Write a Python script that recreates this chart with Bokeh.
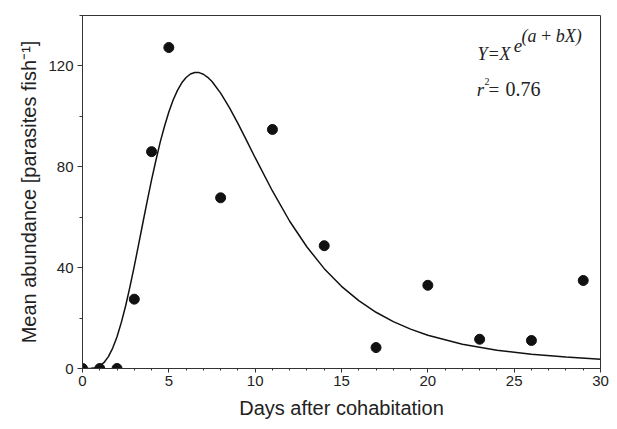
from bokeh.plotting import figure
from bokeh.models import FixedTicker, Label, Range1d
from bokeh.embed import file_html
from bokeh.resources import INLINE

days = [0, 1, 2, 3, 4, 5, 8, 11, 14, 17, 20, 23, 26, 29]
abundance = [0, 0, 0, 27.5, 86, 127.3, 67.7, 94.8, 48.7, 8.3, 33, 11.6, 11.1, 34.9]

# Fitted curve
curve_x = [0, 0.5, 0.75, 1, 1.25, 1.5, 1.75, 2, 2.25, 2.5, 2.75, 3, 3.25, 3.5, 3.75, 4,
           4.25, 4.5, 4.75, 5, 5.25, 5.5, 5.75, 6, 6.25, 6.5, 6.75, 7, 7.25, 7.5, 8, 8.5,
           9, 9.5, 10, 11, 12, 13, 14, 15, 16, 17, 18, 19, 20, 22, 24, 26, 28, 30]
curve_y = [0, 0.06, 0.31, 1.0, 2.4, 4.7, 8.1, 12.6, 18.3, 24.9, 32.5, 40.6, 49.2, 57.9,
           66.5, 74.8, 82.5, 89.8, 96.1, 101.7, 106.5, 110.3, 113.3, 115.4, 116.8, 117.4,
           117.35, 116.7, 115.5, 113.8, 109.2, 103.6, 97.2, 90.5, 83.6, 70.4, 58.4, 48.2,
           39.6, 32.6, 26.9, 22.3, 18.6, 15.6, 13.2, 9.65, 7.28, 5.66, 4.52, 3.71]

x_major = [0, 5, 10, 15, 20, 25, 30]
x_minor = list(range(0, 31))
y_major = [0, 40, 80, 120]
y_minor = [20, 60, 100, 140]

p = figure(width=615, height=427, output_backend="svg", toolbar_location=None,
           x_range=Range1d(0, 30), y_range=Range1d(0, 140),
           min_border_left=82, min_border_right=15, min_border_top=15, min_border_bottom=59)
p.background_fill_color = "white"
p.border_fill_color = "white"
p.outline_line_color = "#333333"
p.outline_line_width = 1
p.xgrid.visible = False
p.ygrid.visible = False

for ax in (p.xaxis[0], p.yaxis[0]):
    ax.axis_line_color = "#333333"
    ax.major_tick_line_color = "#333333"
    ax.minor_tick_line_color = "#333333"
    ax.major_tick_in = 0
    ax.minor_tick_in = 0
    ax.major_label_text_font = "Liberation Sans"
    ax.major_label_text_font_size = "15px"
    ax.major_label_text_color = "#222222"
    ax.axis_label_text_font = "Liberation Sans"
    ax.axis_label_text_font_size = "20px"
    ax.axis_label_text_font_style = "normal"
    ax.axis_label_text_color = "#222222"

p.xaxis.ticker = FixedTicker(ticks=x_major, minor_ticks=x_minor)
p.yaxis.ticker = FixedTicker(ticks=y_major, minor_ticks=y_minor)
p.xaxis.major_tick_out = 4
p.xaxis.minor_tick_out = 2
p.yaxis.major_tick_out = 5
p.yaxis.minor_tick_out = 3
p.xaxis.major_label_standoff = 3
p.yaxis.major_label_standoff = 4
p.xaxis.axis_label = "Days after cohabitation"
p.yaxis.axis_label = "Mean abundance [parasites fish\u207b\u00b9]"
p.xaxis.axis_label_standoff = 8
p.yaxis.axis_label_standoff = 5

p.line(curve_x, curve_y, line_color="#111111", line_width=1.5)
p.scatter(days, abundance, size=10, fill_color="#111111", line_color="#111111")

serif = "Liberation Serif"
lab = dict(text_font=serif, text_color="#222222", text_baseline="alphabetic")
p.add_layout(Label(x=22.87, y=124.8, text="Y=X", text_font_style="italic",
                   text_font_size="18px", **lab))
p.add_layout(Label(x=24.97, y=128.0, text="e", text_font_style="italic",
                   text_font_size="19px", **lab))
p.add_layout(Label(x=25.42, y=132.0, text="(a\u2009+\u2009bX)", text_font_style="italic",
                   text_font_size="18px", **lab))
p.add_layout(Label(x=22.84, y=110.8, text="r", text_font_style="italic",
                   text_font_size="19px", **lab))
p.add_layout(Label(x=23.28, y=114.0, text="2", text_font_size="10px", **lab))
p.add_layout(Label(x=23.51, y=110.8, text="=", text_font_size="19px", **lab))
p.add_layout(Label(x=24.5, y=110.8, text="0.76", text_font_size="20px", **lab))

open("out.html", "w").write(file_html(p, INLINE))
